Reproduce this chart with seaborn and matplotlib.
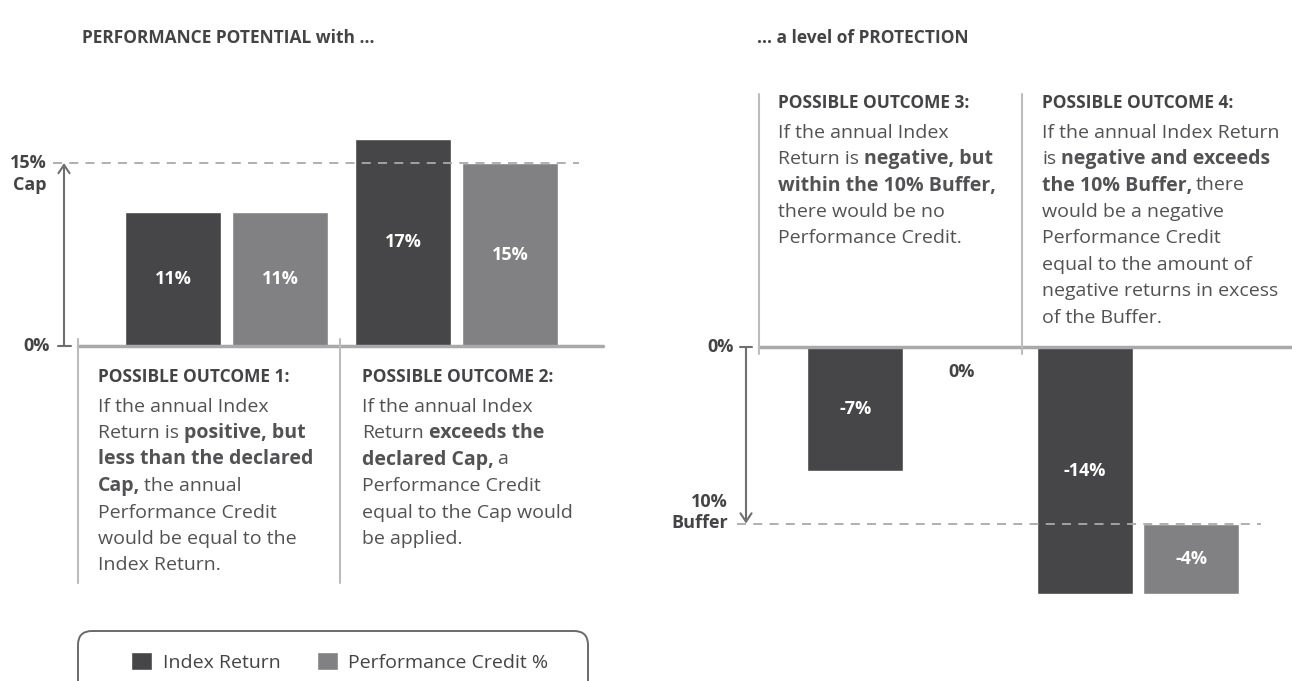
import matplotlib
matplotlib.use("Agg")
import matplotlib.pyplot as plt
import matplotlib.transforms as mtransforms
from matplotlib.patches import Patch, FancyBboxPatch, FancyArrowPatch
from matplotlib.lines import Line2D
import pandas as pd
import seaborn as sns

# values shown in the chart
series = ["Index Return", "Performance Credit %"]
outcomes_up = ["Outcome 1", "Outcome 2"]
index_up = [11, 17]
credit_up = [11, 15]
outcomes_down = ["Outcome 3", "Outcome 4"]
index_down = [-7, -14]
credit_down = [0, -4]
cap = 15
buffer = 10

titles = ["PERFORMANCE POTENTIAL with ...", "... a level of PROTECTION"]
notes_up = [
    ["POSSIBLE OUTCOME 1:", "If the annual Index", "Return is **positive, but**",
     "**less than the declared**", "**Cap,** the annual", "Performance Credit",
     "would be equal to the", "Index Return."],
    ["POSSIBLE OUTCOME 2:", "If the annual Index", "Return **exceeds the**",
     "**declared Cap,** a", "Performance Credit", "equal to the Cap would",
     "be applied."],
]
notes_down = [
    ["POSSIBLE OUTCOME 3:", "If the annual Index", "Return is **negative, but**",
     "**within the 10% Buffer,**", "there would be no", "Performance Credit."],
    ["POSSIBLE OUTCOME 4:", "If the annual Index Return", "is **negative and exceeds**",
     "**the 10% Buffer,** there", "would be a negative", "Performance Credit",
     "equal to the amount of", "negative returns in excess", "of the Buffer."],
]

DARK = "#464648"
LIGHT = "#818184"
TXT = "#444446"
BODY = "#525254"
RULE = "#bcbcbc"
BASE = "#a9a9ab"
ARROW = "#6f6f72"

W, H = 1292, 681

sns.set_theme(style="white")
plt.rcParams["font.family"] = ["Open Sans", "DejaVu Sans"]

fig = plt.figure(figsize=(W / 100, H / 100), dpi=100)
renderer = fig.canvas.get_renderer()


def fx(px):
    return px / W


def fy(py):
    return 1 - py / H


def add_axes_px(x0, y0, x1, y1):
    return fig.add_axes([fx(x0), fy(y1), fx(x1) - fx(x0), fy(y0) - fy(y1)])


def fit_limits(ax, box, cat0_px, cat_px, zero_px, unit_px):
    x0, y0, x1, y1 = box
    ax.set_xlim((x0 - cat0_px) / cat_px, (x1 - cat0_px) / cat_px)
    ax.set_ylim((zero_px - y1) / unit_px, (zero_px - y0) / unit_px)


def text_width(s, weight, size):
    t = fig.text(0, 0, s, fontsize=size, fontweight=weight)
    w = t.get_window_extent(renderer=renderer).width
    t.remove()
    return w


def rich_line(x, y, line, size=14, color=BODY):
    # a line of text where **...** parts are bold
    parts = line.split("**")
    cx = x
    for i, part in enumerate(parts):
        if not part:
            continue
        weight = "bold" if i % 2 else "normal"
        sp = text_width("a a", weight, size) - text_width("aa", weight, size)
        if part.startswith(" "):
            cx += sp - 1.5
        core = part.strip()
        t = fig.text(fx(cx), fy(y), core, fontsize=size, fontweight=weight,
                     color=color, ha="left", va="center")
        cx = t.get_window_extent(renderer=renderer).x1
        if part.endswith(" "):
            cx += sp


def note_block(x, y, lines):
    fig.text(fx(x), fy(y), lines[0], fontsize=12.5, fontweight="bold",
             color=TXT, ha="left", va="center")
    for k, line in enumerate(lines[1:]):
        rich_line(x, y + 29.5 + 26.5 * k, line)


def vline_px(x, y0, y1):
    fig.add_artist(Line2D([fx(x), fx(x)], [fy(y0), fy(y1)], color=RULE, lw=1.5,
                          transform=fig.transFigure))


# ---------- left panel: performance potential ----------
box_l = (40, 120, 610, 360)
axL = add_axes_px(*box_l)
up = pd.DataFrame({
    "outcome": outcomes_up * 2,
    "series": [series[0]] * 2 + [series[1]] * 2,
    "value": index_up + credit_up,
})
sns.barplot(data=up, x="outcome", y="value", hue="series", hue_order=series,
            palette=[DARK, LIGHT], saturation=1, width=0.93, gap=0.1,
            errorbar=None, legend=False, ax=axL)

# ---------- right panel: protection ----------
box_r = (735, 330, 1292, 630)
axR = add_axes_px(*box_r)
down = pd.DataFrame({
    "outcome": outcomes_down * 2,
    "series": [series[0]] * 2 + [series[1]] * 2,
    "value": index_down + credit_down,
})
sns.barplot(data=down, x="outcome", y="value", hue="series", hue_order=series,
            palette=[DARK, LIGHT], saturation=1, width=0.93, gap=0.1,
            errorbar=None, legend=False, ax=axR)

# credit losses start below the buffer
for bar, v in zip(axR.containers[1], credit_down):
    if v < 0:
        bar.set_y(-buffer)

for ax in (axL, axR):
    ax.set_xlabel("")
    ax.set_ylabel("")
    ax.set_xticks([])
    ax.set_yticks([])
    sns.despine(ax=ax, left=True, bottom=True)
    ax.patch.set_alpha(0)

fit_limits(axL, box_l, 226.5, 230, 346, 12.2)
fit_limits(axR, box_r, 908.5, 229.5, 347, 17.65)

# value labels
for ax, vals in [(axL, [index_up, credit_up]), (axR, [index_down, credit_down])]:
    for cont, vs in zip(ax.containers, vals):
        for bar, v in zip(cont, vs):
            cx = bar.get_x() + bar.get_width() / 2
            if v == 0:
                ax.annotate(f"{v}%", (cx, 0), xytext=(0, -18), textcoords="offset points",
                            ha="center", va="center", fontsize=13, fontweight="bold",
                            color=TXT, annotation_clip=False)
            else:
                cy = bar.get_y() + bar.get_height() / 2
                ax.text(cx, cy, f"{v}%", ha="center", va="center", fontsize=13,
                        fontweight="bold", color="white")

# left axis decorations
tl = mtransforms.blended_transform_factory(fig.transFigure, axL.transData)
fig.add_artist(Line2D([fx(78), fx(603)], [0, 0], color=BASE, lw=2.5, transform=tl))
fig.add_artist(Line2D([fx(53), fx(579)], [cap, cap], color=BASE, lw=1.3,
                      ls=(0, (5, 4)), transform=tl))
fig.add_artist(Line2D([fx(58), fx(71)], [0, 0], color=ARROW, lw=1.5, transform=tl))
fig.add_artist(FancyArrowPatch((fx(64), 0), (fx(64), cap), transform=tl,
                               arrowstyle="->,head_length=6,head_width=4",
                               mutation_scale=1, color=ARROW, lw=1.5,
                               shrinkA=0, shrinkB=0))
fig.text(fx(50), 0, "0%", transform=tl, ha="right", va="center", fontsize=13,
         fontweight="bold", color=TXT)
fig.text(fx(47), cap, f"{cap}%", transform=tl, ha="right", va="center", fontsize=13,
         fontweight="bold", color=TXT)
axL.annotate("Cap", (fx(47), cap), xycoords=tl, xytext=(0, -16), textcoords="offset points",
             ha="right", va="center", fontsize=13, fontweight="bold", color=TXT,
             annotation_clip=False)

# right axis decorations
tr = mtransforms.blended_transform_factory(fig.transFigure, axR.transData)
fig.add_artist(Line2D([fx(759), fx(1292)], [0, 0], color=BASE, lw=2.5, transform=tr))
fig.add_artist(Line2D([fx(737), fx(1261)], [-buffer, -buffer], color=BASE, lw=1.3,
                      ls=(0, (5, 4)), transform=tr))
fig.add_artist(Line2D([fx(740), fx(752)], [0, 0], color=ARROW, lw=1.5, transform=tr))
fig.add_artist(FancyArrowPatch((fx(746), 0), (fx(746), -buffer), transform=tr,
                               arrowstyle="->,head_length=6,head_width=4",
                               mutation_scale=1, color=ARROW, lw=1.5,
                               shrinkA=0, shrinkB=0))
fig.text(fx(734), 0, "0%", transform=tr, ha="right", va="center", fontsize=13,
         fontweight="bold", color=TXT)
fig.text(fx(728), -buffer, "Buffer", transform=tr, ha="right", va="center", fontsize=13,
         fontweight="bold", color=TXT)
axR.annotate(f"{buffer}%", (fx(728), -buffer), xycoords=tr, xytext=(0, 15.5),
             textcoords="offset points", ha="right", va="center", fontsize=13,
             fontweight="bold", color=TXT, annotation_clip=False)

# dividers and notes
vline_px(78, 339, 583)
vline_px(340, 339, 583)
vline_px(759, 94, 354)
vline_px(1022, 94, 354)
note_block(98, 377, notes_up[0])
note_block(362, 377, notes_up[1])
note_block(778, 103, notes_down[0])
note_block(1042, 103, notes_down[1])

# titles
fig.text(fx(82), fy(38), titles[0], fontsize=12.5, fontweight="bold", color=TXT,
         ha="left", va="center")
fig.text(fx(757), fy(38), titles[1], fontsize=12.5, fontweight="bold", color=TXT,
         ha="left", va="center")

# legend in a rounded box cut by the bottom edge
fig.add_artist(FancyBboxPatch((78, H - 700), 510, 69,
                              boxstyle="round,pad=0,rounding_size=14",
                              transform=mtransforms.IdentityTransform(),
                              fc="none", ec="#6a6a6d", lw=1.4))
handles = [Patch(facecolor=DARK), Patch(facecolor=LIGHT)]
fig.legend(handles, series, loc="center", bbox_to_anchor=(fx(340), fy(662)), ncol=2,
           frameon=False, fontsize=14, handlelength=1.05, handleheight=1.05,
           handletextpad=0.55, columnspacing=1.9, labelcolor=TXT)

fig.savefig("out.png", dpi=100)
